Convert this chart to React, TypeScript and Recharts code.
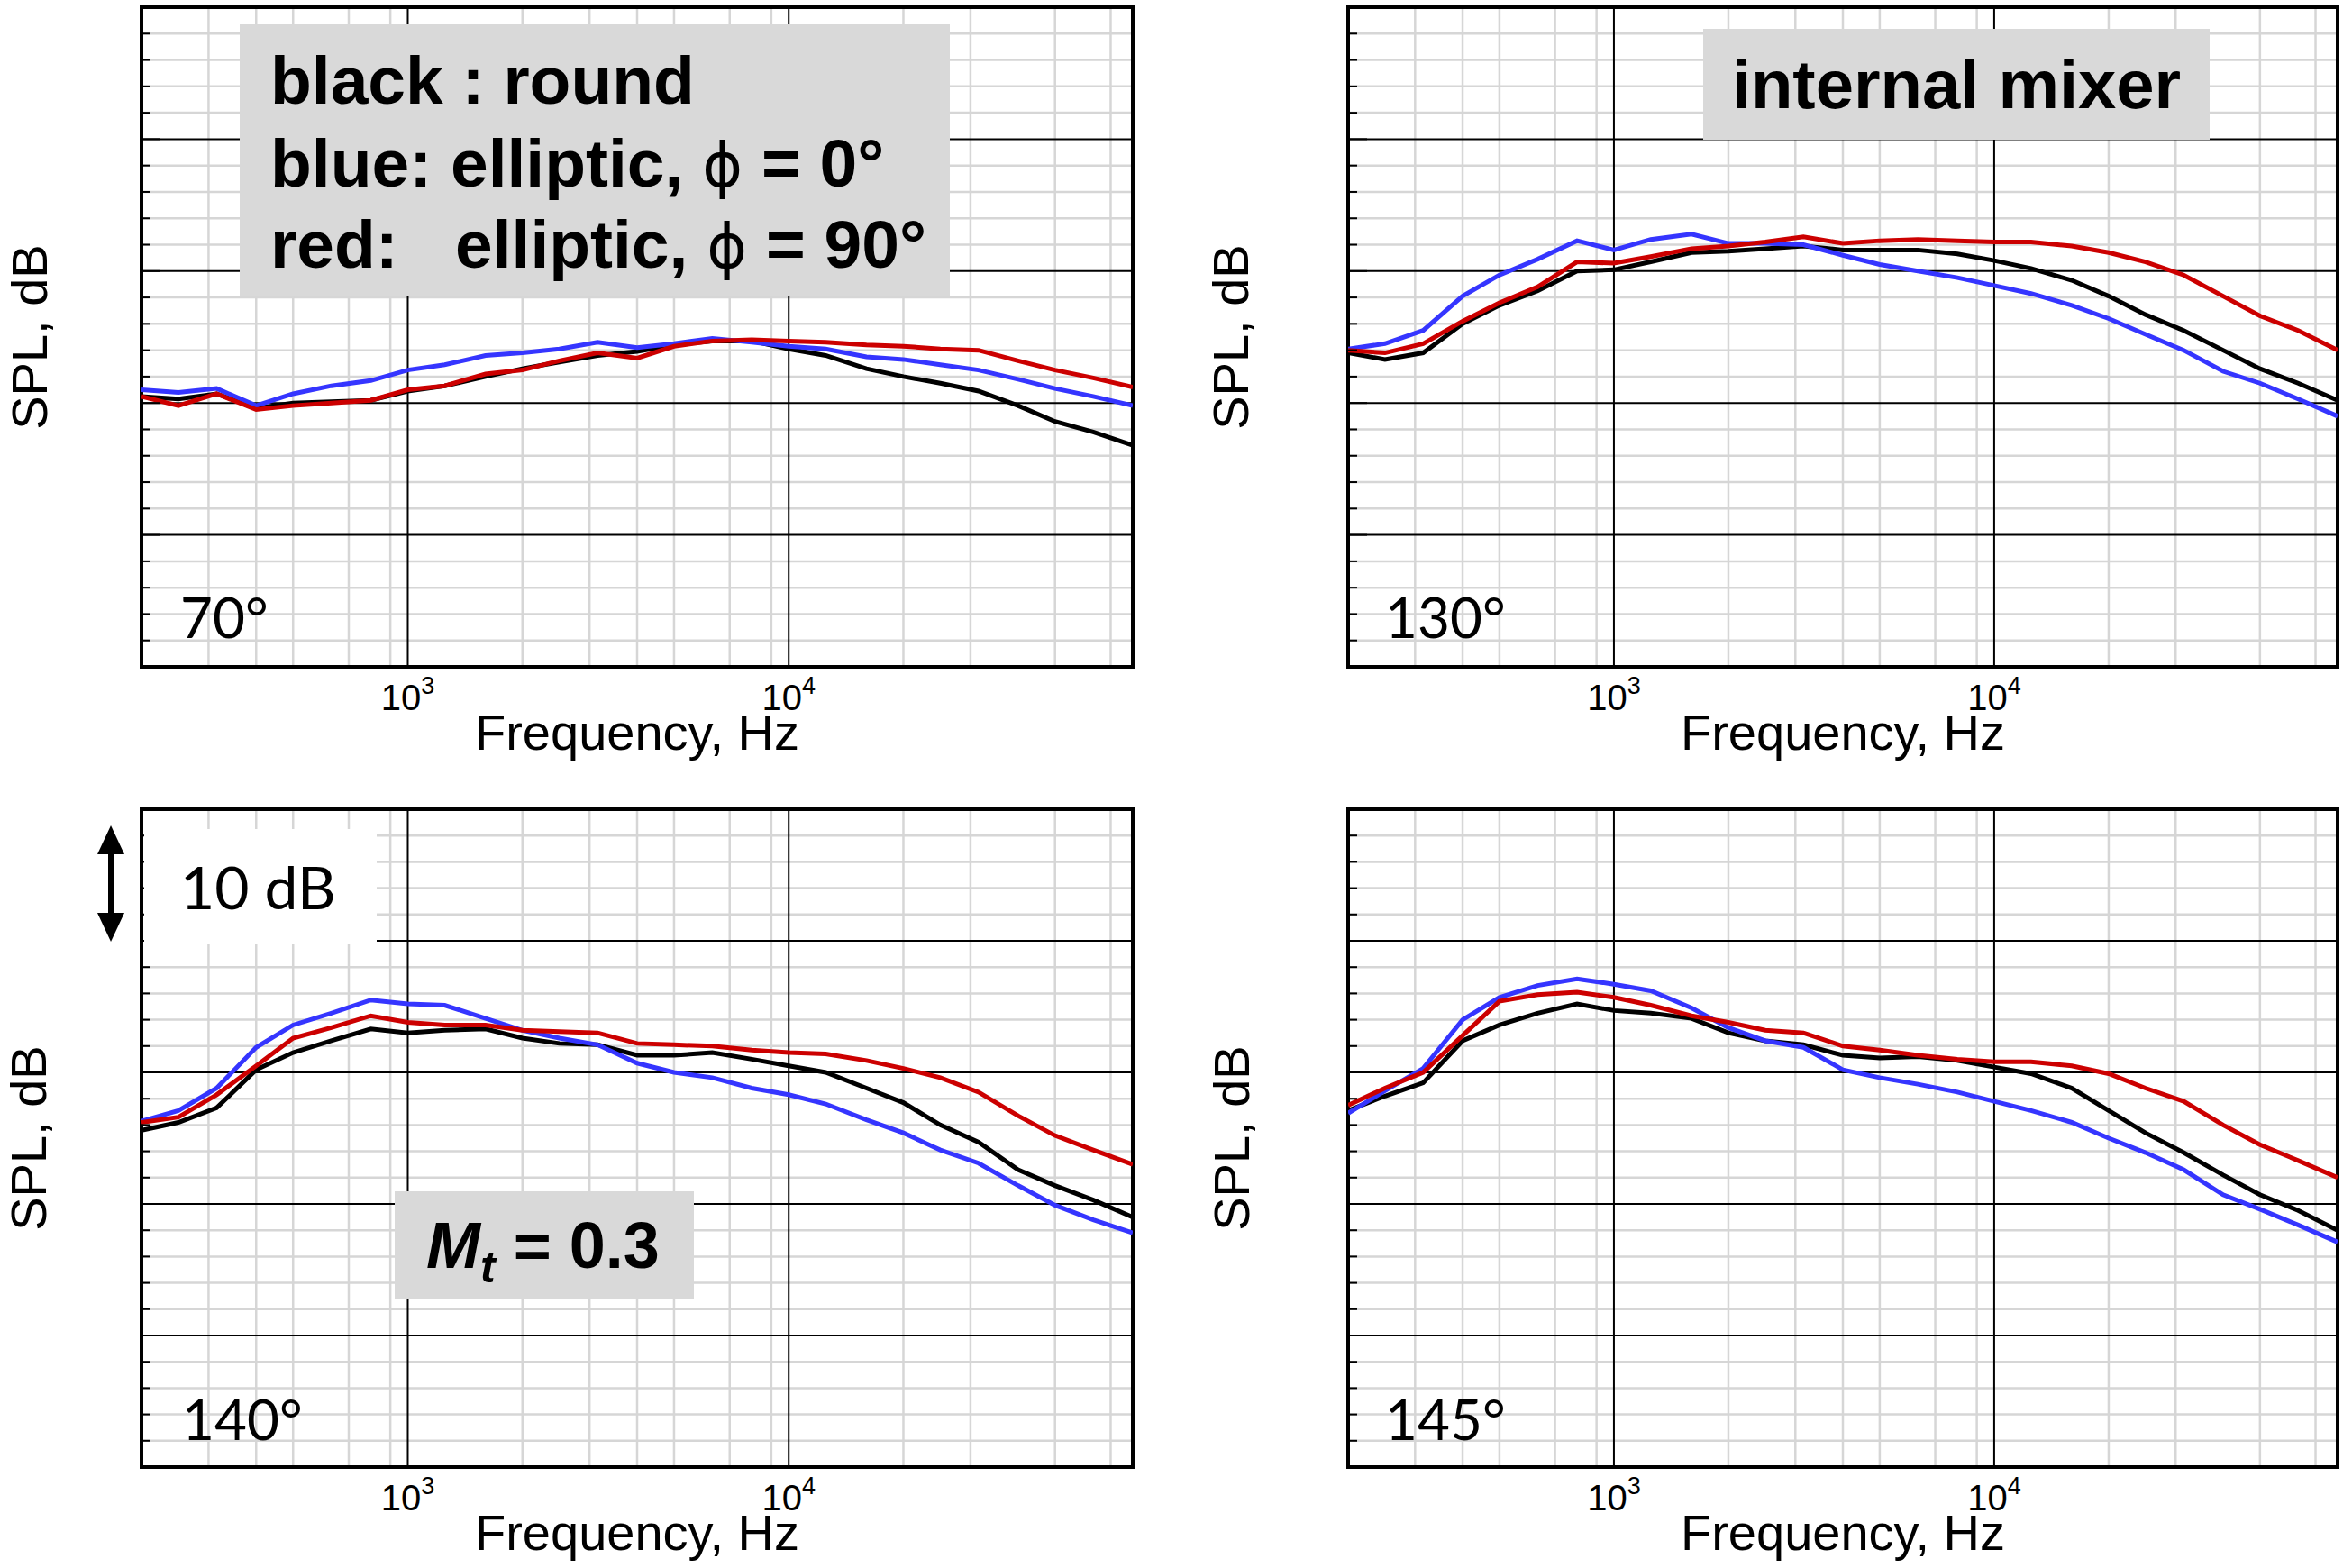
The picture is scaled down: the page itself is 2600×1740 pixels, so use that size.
import { CartesianGrid, Line, LineChart, ReferenceArea, XAxis, YAxis } from "recharts";

const FONT = "'Liberation Sans', Arial, sans-serif";
const LABEL_FONT = "Lato, 'Noto Sans', sans-serif";

// 1/3-octave band centre frequencies, Hz
const freqs = [200, 250, 315, 400, 500, 630, 800, 1000, 1250, 1600, 2000, 2500, 3150, 4000, 5000, 6300, 8000, 10000, 12500, 16000, 20000, 25000, 31500, 40000, 50000, 63000, 80000];

// SPL (relative dB, 10 dB per major grid)
const black70 = [20.5, 20.3, 20.7, 19.6, 20.0, 20.1, 20.2, 20.9, 21.3, 22.0, 22.6, 23.1, 23.6, 23.9, 24.4, 24.7, 24.7, 24.1, 23.6, 22.6, 22.0, 21.5, 20.9, 19.8, 18.6, 17.8, 16.8];
const red70 = [20.5, 19.8, 20.7, 19.5, 19.8, 20.0, 20.2, 21.0, 21.3, 22.2, 22.5, 23.2, 23.8, 23.4, 24.3, 24.7, 24.8, 24.7, 24.6, 24.4, 24.3, 24.1, 24.0, 23.2, 22.5, 21.9, 21.2];
const blue70 = [21.0, 20.8, 21.1, 19.8, 20.7, 21.3, 21.7, 22.5, 22.9, 23.6, 23.8, 24.1, 24.6, 24.2, 24.5, 24.9, 24.6, 24.3, 24.1, 23.5, 23.3, 22.9, 22.5, 21.8, 21.1, 20.5, 19.8];

const black130 = [23.8, 23.3, 23.8, 26.0, 27.4, 28.5, 30.0, 30.1, 30.7, 31.4, 31.5, 31.7, 31.9, 31.6, 31.6, 31.6, 31.3, 30.8, 30.2, 29.3, 28.1, 26.7, 25.5, 24.0, 22.6, 21.5, 20.2];
const red130 = [24.0, 23.8, 24.5, 26.2, 27.6, 28.8, 30.7, 30.6, 31.1, 31.7, 31.9, 32.2, 32.6, 32.1, 32.3, 32.4, 32.3, 32.2, 32.2, 31.9, 31.4, 30.7, 29.7, 28.1, 26.6, 25.5, 24.0];
const blue130 = [24.1, 24.5, 25.5, 28.1, 29.7, 30.9, 32.3, 31.6, 32.4, 32.8, 32.1, 32.1, 32.0, 31.2, 30.5, 30.0, 29.5, 28.9, 28.3, 27.4, 26.4, 25.2, 24.0, 22.4, 21.5, 20.3, 19.0];

const black140 = [25.6, 26.2, 27.3, 30.2, 31.5, 32.4, 33.3, 33.0, 33.2, 33.3, 32.6, 32.2, 32.1, 31.3, 31.3, 31.5, 31.0, 30.5, 30.0, 28.8, 27.7, 26.0, 24.7, 22.6, 21.4, 20.3, 19.0];
const red140 = [26.2, 26.6, 28.3, 30.5, 32.6, 33.4, 34.3, 33.8, 33.6, 33.6, 33.2, 33.1, 33.0, 32.2, 32.1, 32.0, 31.7, 31.5, 31.4, 30.9, 30.3, 29.6, 28.5, 26.7, 25.2, 24.1, 23.0];
const blue140 = [26.3, 27.1, 28.8, 31.9, 33.6, 34.5, 35.5, 35.2, 35.1, 34.1, 33.2, 32.6, 32.1, 30.7, 30.0, 29.6, 28.8, 28.3, 27.6, 26.4, 25.4, 24.1, 23.1, 21.4, 19.9, 18.8, 17.8];

const black145 = [27.1, 28.2, 29.2, 32.4, 33.6, 34.5, 35.2, 34.7, 34.5, 34.1, 33.0, 32.4, 32.1, 31.3, 31.1, 31.2, 30.9, 30.4, 29.9, 28.8, 27.1, 25.4, 23.9, 22.2, 20.7, 19.5, 18.0];
const red145 = [27.5, 28.8, 30.0, 32.8, 35.4, 35.9, 36.1, 35.7, 35.1, 34.3, 33.8, 33.2, 33.0, 32.0, 31.7, 31.3, 31.0, 30.8, 30.8, 30.5, 29.9, 28.8, 27.8, 26.0, 24.5, 23.3, 22.0];
const blue145 = [26.9, 28.6, 30.3, 34.0, 35.7, 36.6, 37.1, 36.7, 36.2, 34.9, 33.4, 32.4, 31.9, 30.2, 29.6, 29.1, 28.5, 27.8, 27.1, 26.2, 25.0, 23.9, 22.6, 20.7, 19.6, 18.4, 17.1];

const xTicks = [1000, 10000];
const xMinor = [300, 400, 500, 600, 700, 800, 900, 2000, 3000, 4000, 5000, 6000, 7000, 8000, 9000, 20000, 30000, 40000, 50000, 60000, 70000];
const yMajor = [10, 20, 30, 40];
const yMinor = [2, 4, 6, 8, 12, 14, 16, 18, 22, 24, 26, 28, 32, 34, 36, 38, 42, 44, 46, 48];
const yTicks = [2, 4, 6, 8, 10, 12, 14, 16, 18, 20, 22, 24, 26, 28, 30, 32, 34, 36, 38, 40, 42, 44, 46, 48];

const PowerTick = ({ x, y, payload }: any) => (
  <text x={x} y={y + 48} textAnchor="middle" fontFamily={FONT} fontSize={40} fill="#000">
    10
    <tspan dy={-18} fontSize={27}>{Math.round(Math.log10(payload.value))}</tspan>
  </text>
);

const InnerTick = ({ x, y, payload }: any) => {
  const len = payload.value % 10 === 0 ? 21 : 10;
  return <line x1={x} x2={x + len} y1={y} y2={y} stroke="#000" strokeWidth={2} />;
};

const Panel = ({ black, blue, red, left, top, yWidth, right, mTop, mBottom, labelOffset }: any) => {
  const rows = freqs.map((f, i) => ({ f, black: black[i], blue: blue[i], red: red[i] }));
  return (
    <div style={{ position: "absolute", left, top, width: 1300, height: 870 }}>
      <LineChart width={1300} height={870} data={rows} margin={{ top: mTop, right, bottom: mBottom, left: 0 }}>
        <CartesianGrid horizontalValues={yMinor} verticalValues={xMinor} stroke="#d6d6d6" strokeWidth={2.5} />
        <CartesianGrid horizontalValues={yMajor} verticalValues={xTicks} stroke="#000" strokeWidth={2} />
        <XAxis
          dataKey="f"
          type="number"
          scale="log"
          domain={[200, 80000]}
          allowDataOverflow
          ticks={xTicks}
          tick={(p: any) => <PowerTick {...p} />}
          tickLine={false}
          tickSize={0}
          tickMargin={0}
          axisLine={false}
          height={110}
          label={{ value: "Frequency, Hz", position: "insideBottom", offset: 18, fill: "#000", fontSize: 56, fontFamily: FONT }}
        />
        <YAxis
          type="number"
          domain={[0, 50]}
          allowDataOverflow
          ticks={yTicks}
          tick={(p: any) => <InnerTick {...p} />}
          tickLine={false}
          tickSize={0}
          tickMargin={0}
          axisLine={false}
          width={yWidth}
          label={{ value: "SPL, dB", angle: -90, position: "insideLeft", offset: labelOffset, fill: "#000", style: { textAnchor: "middle", fontSize: 56, fontFamily: FONT } }}
        />
        <Line type="linear" dataKey="black" stroke="#000000" strokeWidth={5} dot={false} isAnimationActive={false} />
        <Line type="linear" dataKey="blue" stroke="#3535ff" strokeWidth={5} dot={false} isAnimationActive={false} />
        <Line type="linear" dataKey="red" stroke="#cc0000" strokeWidth={5} dot={false} isAnimationActive={false} />
        <ReferenceArea x1={200} x2={80000} y1={0} y2={50} fill="none" stroke="#000" strokeWidth={4} ifOverflow="visible" />
      </LineChart>
    </div>
  );
};

const Notes = () => (
  <svg width={2600} height={1740} style={{ position: "absolute", left: 0, top: 0, pointerEvents: "none" }}>
    <rect x={266} y={27} width={788} height={302} fill="#d9d9d9" />
    <g fontFamily={FONT} fontWeight="bold" fontSize={75} fill="#000">
      <text x={300} y={115}>black : round</text>
      <text x={300} y={207}>
        blue: elliptic, <tspan fontFamily="'DejaVu Sans'" fontWeight="normal" fontSize={68}>ϕ</tspan> = 0°
      </text>
      <text x={300} y={297}>red:</text>
      <text x={505} y={297}>
        elliptic, <tspan fontFamily="'DejaVu Sans'" fontWeight="normal" fontSize={68}>ϕ</tspan> = 90°
      </text>
    </g>

    <rect x={1890} y={32} width={562} height={123} fill="#d9d9d9" />
    <text x={2171} y={120} textAnchor="middle" fontFamily={FONT} fontWeight="bold" fontSize={76} fill="#000">internal mixer</text>

    <rect x={160} y={920} width={258} height={127} fill="#ffffff" />
    <text x={200} y={1009} fontFamily={LABEL_FONT} fontSize={66} fill="#000">10 dB</text>
    <line x1={123} x2={123} y1={940} y2={1021} stroke="#000" strokeWidth={6} />
    <polygon points="123,916 108,948 138,948" fill="#000" />
    <polygon points="123,1045 108,1013 138,1013" fill="#000" />

    <rect x={438} y={1322} width={332} height={119} fill="#d9d9d9" />
    <text x={473} y={1407} fontFamily={FONT} fontWeight="bold" fontSize={72} fill="#000">
      <tspan fontStyle="italic">M</tspan>
      <tspan fontStyle="italic" fontSize={50} dy={16}>t</tspan>
      <tspan dy={-16}> = 0.3</tspan>
    </text>

    <g fontFamily={LABEL_FONT} fontSize={62} fill="#000">
      <text x={200} y={708}>70°</text>
      <text x={1537} y={708}>130°</text>
      <text x={202} y={1598}>140°</text>
      <text x={1537} y={1598}>145°</text>
    </g>
  </svg>
);

export default function App() {
  return (
    <div style={{ position: "absolute", left: 0, top: 0, width: 2600, height: 1740, background: "#fff", overflow: "hidden" }}>
      <Panel black={black70} blue={blue70} red={red70} left={0} top={0} yWidth={157} right={43} mTop={8} mBottom={20} labelOffset={32} />
      <Panel black={black130} blue={blue130} red={red130} left={1300} top={0} yWidth={196} right={6} mTop={8} mBottom={20} labelOffset={65} />
      <Panel black={black140} blue={blue140} red={red140} left={0} top={870} yWidth={157} right={43} mTop={28} mBottom={2} labelOffset={31} />
      <Panel black={black145} blue={blue145} red={red145} left={1300} top={870} yWidth={196} right={6} mTop={28} mBottom={2} labelOffset={66} />
      <Notes />
    </div>
  );
}
